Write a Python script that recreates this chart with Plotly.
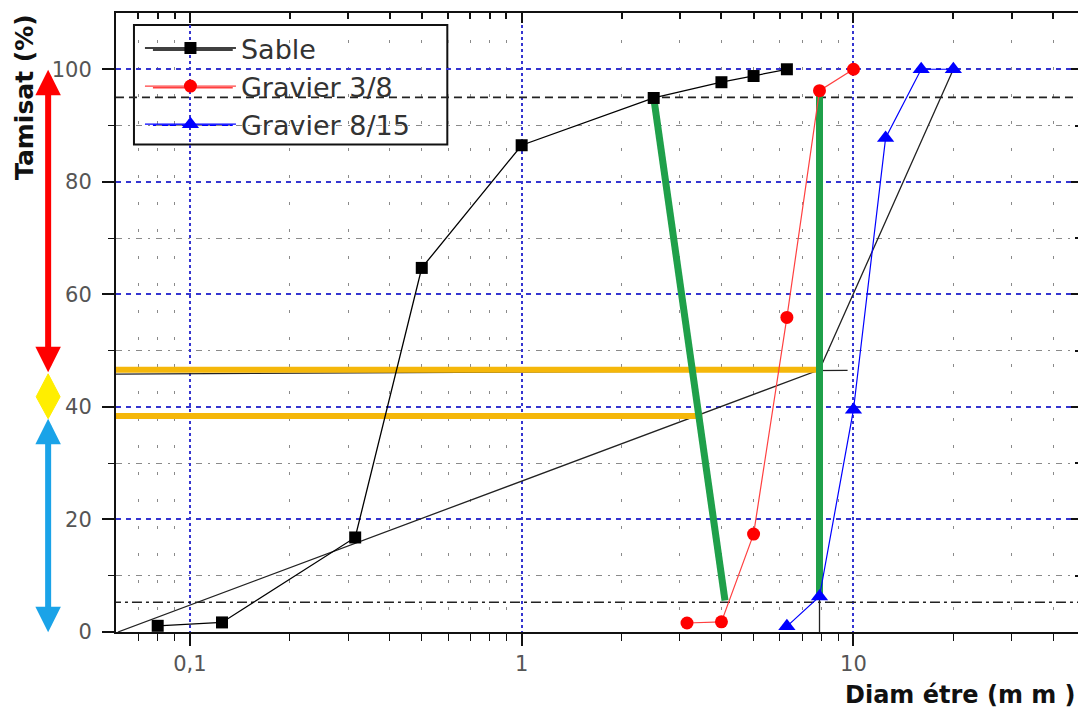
import math
import plotly.graph_objects as go

# ---------------- data ----------------
sable_x = [0.08, 0.125, 0.315, 0.5, 1.0, 2.5, 4.0, 5.0, 6.3]
sable_y = [1.1, 1.7, 16.8, 64.7, 86.5, 94.9, 97.7, 98.8, 100.0]

g38_x = [3.15, 4.0, 5.0, 6.3, 7.9, 10.0]
g38_y = [1.6, 1.8, 17.4, 55.9, 96.2, 100.0]

g815_x = [6.3, 7.9, 10.0, 12.5, 16.0, 20.0]
g815_y = [1.0, 6.3, 39.5, 87.8, 100.0, 100.0]

# Dreux-Gorisse construction lines
ref_x = [0.0607, 7.9, 20.0]
ref_y = [0.0, 46.6, 100.0]
ref_vert_x = [7.9, 7.9]
ref_vert_y = [0.0, 6.0]
ref_h_x = [0.05, 9.6]
ref_h_y = [45.8, 46.5]
yellow1_x = [0.05, 7.9]
yellow1_y = [46.6, 46.6]
yellow2_x = [0.05, 3.5]
yellow2_y = [38.4, 38.4]
green1_x = [2.5, 4.1]
green1_y = [95.0, 5.6]
green2_x = [7.9, 7.9]
green2_y = [96.0, 6.0]
dash95_x = [0.05, 60.0]
dash95_y = [95.0, 95.0]
dashdot5_x = [0.05, 60.0]
dashdot5_y = [5.3, 5.3]

x_tickvals = [0.1, 1, 10]
x_ticktext = ["0,1", "1", "10"]
x_minor = [0.07, 0.08, 0.09, 0.2, 0.3, 0.4, 0.5, 0.6, 0.7, 0.8, 0.9,
           2, 3, 4, 5, 6, 7, 8, 9, 20, 30, 40]
y_tickvals = [0, 20, 40, 60, 80, 100]
y_minor = [10, 30, 50, 70, 90]

# ---------------- layout geometry (screen pixels) ----------------
OFF = 8                      # default page body margin
W, H = 1086 - OFF, 713 - OFF
L, R, T, B = 116, 1083, 11, 632
PW, PH = R - L, B - T
X_RANGE = [math.log10(0.0599), math.log10(48.5)]
Y_RANGE = [0, 110]


def px_x(px):
    return (px - L) / PW


def px_y(py):
    return (B - py) / PH


fig = go.Figure()

def line_trace(x, y, color, width, dash="solid"):
    fig.add_trace(go.Scatter(x=x, y=y, mode="lines", showlegend=False,
                             hoverinfo="skip",
                             line=dict(color=color, width=width, dash=dash)))

# construction lines (below the data)
line_trace(dash95_x, dash95_y, "#222222", 1.6, "8px,5px")
line_trace(dashdot5_x, dashdot5_y, "#222222", 1.6, "10px,4px,3px,4px")
line_trace(ref_x, ref_y, "#222222", 1.3)
line_trace(ref_vert_x, ref_vert_y, "#222222", 1.3)
line_trace(ref_h_x, ref_h_y, "#222222", 1.3)
line_trace(yellow1_x, yellow1_y, "#f5b70a", 6)
line_trace(yellow2_x, yellow2_y, "#f5b70a", 6)
line_trace(green1_x, green1_y, "#1fa04a", 7)
line_trace(green2_x, green2_y, "#1fa04a", 7)

# data series
fig.add_trace(go.Scatter(x=sable_x, y=sable_y, name="Sable", mode="lines+markers",
                         line=dict(color="#000000", width=1.3),
                         marker=dict(symbol="square", size=12, color="#000000")))
fig.add_trace(go.Scatter(x=g38_x, y=g38_y, name="Gravier 3/8", mode="lines+markers",
                         line=dict(color="#ff4040", width=1.2),
                         marker=dict(symbol="circle", size=13, color="#ff0000")))
fig.add_trace(go.Scatter(x=g815_x, y=g815_y, name="Gravier 8/15", mode="lines+markers",
                         line=dict(color="#0000ff", width=1.2),
                         marker=dict(symbol="triangle-up", size=15, color="#0000ff")))

# dummy trace for mirrored (inside) ticks on top / right
fig.add_trace(go.Scatter(x=[], y=[], xaxis="x2", yaxis="y2", showlegend=False))

legend_row_y = [48, 86, 123.5]
legend_colors = ["#000000", "#ff4040", "#0000ff"]

shapes = [
    # legend box
    dict(type="rect", xref="paper", yref="paper",
         x0=px_x(134), x1=px_x(448), y0=px_y(143), y1=px_y(23),
         fillcolor="white", line=dict(color="#111111", width=2), layer="between"),
    # yellow diamond on the left
    dict(type="path", xref="paper", yref="paper",
         path="M {x0},{y0} L {x1},{y1} L {x0},{y2} L {x3},{y1} Z".format(
             x0=px_x(48), y0=px_y(373), x1=px_x(60), y1=px_y(396),
             y2=px_y(418), x3=px_x(36)),
         fillcolor="#ffee00", line=dict(color="#ffee00", width=1), layer="above"),
]
# longer legend sample lines
for ry, c in zip(legend_row_y, legend_colors):
    shapes.append(dict(type="line", xref="paper", yref="paper",
                       x0=px_x(153), x1=px_x(233), y0=px_y(ry), y1=px_y(ry),
                       line=dict(color=c, width=1.5), layer="between"))

annotations = [
    dict(text="Diam étre (m m )", xref="paper", yref="paper",
         x=px_x(1080), y=px_y(695), xanchor="right", yanchor="middle",
         showarrow=False,
         font=dict(family="DejaVu Sans", size=24, color="#111111", weight="bold")),
    dict(text="Tamisat (%)", xref="paper", yref="paper", textangle=-90,
         x=px_x(25), y=px_y(95), xanchor="center", yanchor="middle",
         showarrow=False,
         font=dict(family="DejaVu Sans", size=25, color="#111111", weight="bold")),
    # red double arrow
    dict(text="", xref="paper", yref="paper", x=px_x(48), y=px_y(68),
         ax=0, ay=304, showarrow=True, arrowside="end+start",
         arrowhead=2, arrowsize=0.85, arrowwidth=6, arrowcolor="#ff0000"),
    # blue double arrow
    dict(text="", xref="paper", yref="paper", x=px_x(48), y=px_y(418),
         ax=0, ay=215, showarrow=True, arrowside="end+start",
         arrowhead=2, arrowsize=0.85, arrowwidth=6, arrowcolor="#1aa3e8"),
]

tickfont = dict(family="DejaVu Sans", size=21, color="#555555")

fig.update_layout(
    width=W, height=H,
    margin=dict(l=L - OFF, r=(W + OFF) - R, t=T - OFF, b=(H + OFF) - B, pad=0),
    paper_bgcolor="white", plot_bgcolor="white",
    showlegend=True,
    legend=dict(x=px_x(140), y=px_y(22), xanchor="left", yanchor="top",
                bgcolor="rgba(0,0,0,0)", borderwidth=0,
                font=dict(family="DejaVu Sans", size=27, color="#333333"),
                itemwidth=91, tracegroupgap=0),
    xaxis=dict(type="log", range=X_RANGE, tickvals=x_tickvals, ticktext=x_ticktext,
               ticks="outside", ticklen=12, tickwidth=1.5, tickcolor="#111111",
               tickfont=tickfont, showline=True, linecolor="#111111", linewidth=2,
               mirror=True, zeroline=False,
               showgrid=True, gridcolor="#3535d0", griddash="dot", gridwidth=1.5,
               minor=dict(tickvals=x_minor, ticks="outside", ticklen=7,
                          tickcolor="#111111", tickwidth=1,
                          showgrid=True, gridcolor="#8a8a8a", griddash="3px,24px",
                          gridwidth=1)),
    yaxis=dict(range=Y_RANGE, tickvals=y_tickvals,
               ticks="outside", ticklen=12, tickwidth=1.5, tickcolor="#111111",
               tickfont=tickfont, showline=True, linecolor="#111111", linewidth=2,
               mirror=True, zeroline=False, ticklabelstandoff=6,
               showgrid=True, gridcolor="#3535d0", griddash="5px,5px", gridwidth=1.5,
               minor=dict(tickvals=y_minor, ticks="outside", ticklen=6,
                          tickcolor="#111111", tickwidth=1,
                          showgrid=True, gridcolor="#8a8a8a",
                          griddash="6px,6px,2px,6px", gridwidth=1)),
    xaxis2=dict(type="log", range=X_RANGE, overlaying="x", side="top", anchor="y2",
                tickvals=x_tickvals, ticks="inside", ticklen=10, tickwidth=1.5,
                tickcolor="#111111", showticklabels=False, showgrid=False,
                zeroline=False,
                minor=dict(tickvals=x_minor, ticks="inside", ticklen=6,
                           tickcolor="#111111", showgrid=False)),
    yaxis2=dict(range=Y_RANGE, overlaying="y", side="right", anchor="x2",
                tickvals=y_tickvals, ticks="inside", ticklen=10, tickwidth=1.5,
                tickcolor="#111111", showticklabels=False, showgrid=False,
                zeroline=False,
                minor=dict(tickvals=y_minor, ticks="inside", ticklen=6,
                           tickcolor="#111111", showgrid=False)),
    shapes=shapes,
    annotations=annotations,
)

fig.write_html("out.html")
